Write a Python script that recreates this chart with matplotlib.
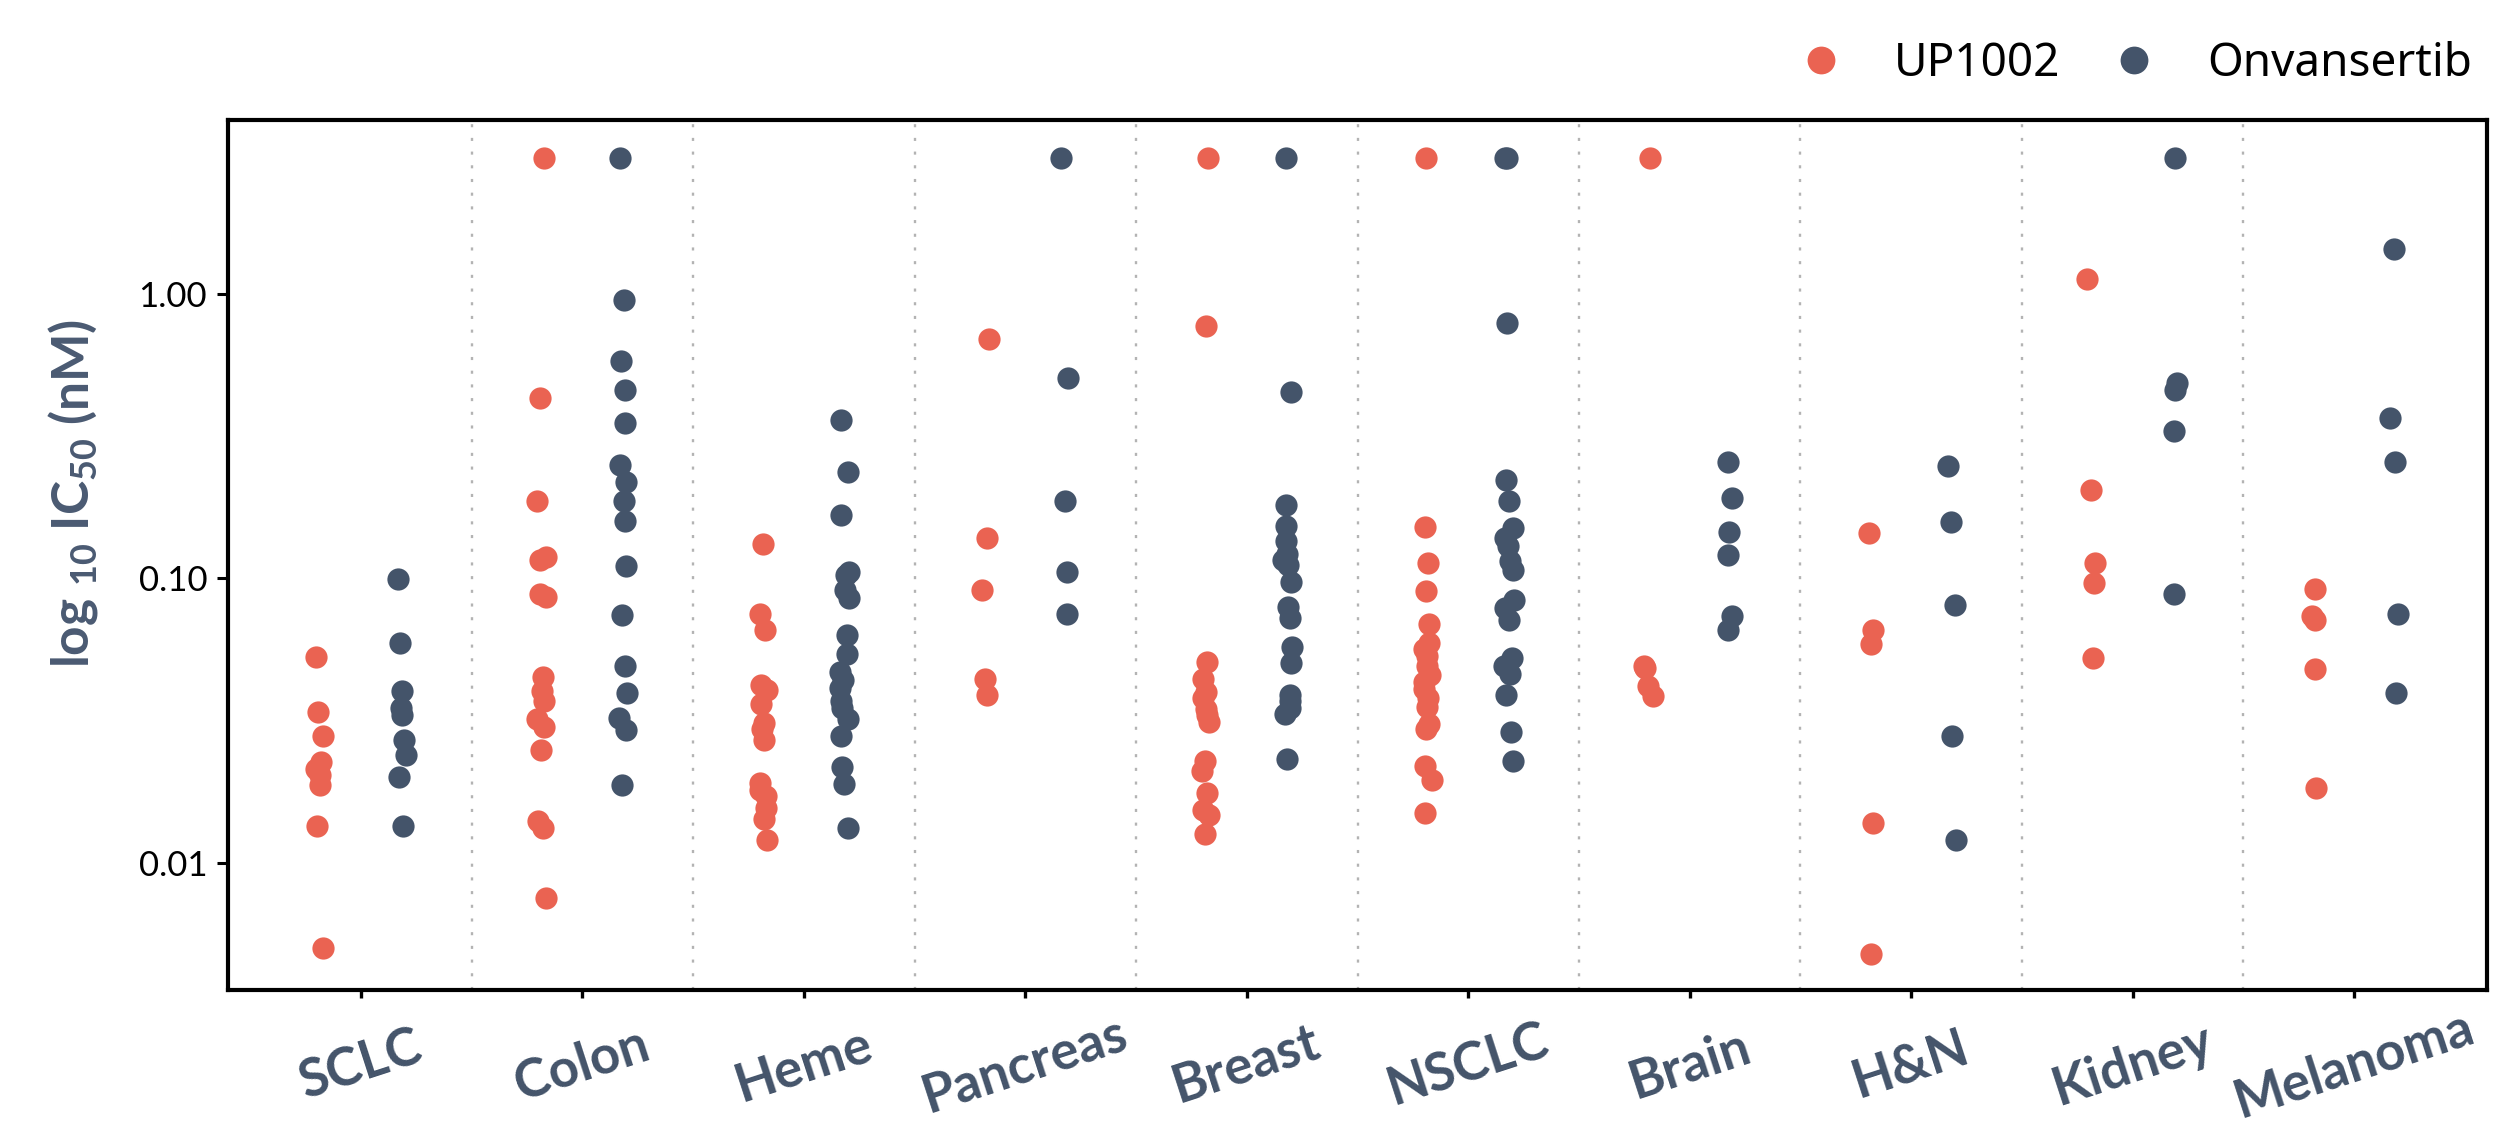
import numpy as np
import matplotlib
matplotlib.use("Agg")
import matplotlib.pyplot as plt
from matplotlib.lines import Line2D

plt.rcParams['mathtext.default'] = 'regular'

# ---------------- data ----------------
categories = ["SCLC", "Colon", "Heme", "Pancreas", "Breast",
              "NSCLC", "Brain", "H&N", "Kidney", "Melanoma"]
series_names = ["UP1002", "Onvansertib"]

sclc_up = [0.053, 0.034, 0.028, 0.0226, 0.0214, 0.0203, 0.0187, 0.0135, 0.0050]
sclc_onv = [0.099, 0.059, 0.040, 0.035, 0.033, 0.027, 0.024, 0.020, 0.0135]

colon_up = [3.0, 0.43, 0.187, 0.119, 0.116, 0.088, 0.086, 0.045, 0.040, 0.037,
            0.032, 0.030, 0.025, 0.0140, 0.0132, 0.0075]
colon_onv = [3.0, 0.95, 0.58, 0.46, 0.35, 0.25, 0.218, 0.187, 0.159, 0.110,
             0.074, 0.049, 0.0394, 0.0323, 0.0292, 0.0187]

heme_up = [0.1315, 0.075, 0.066, 0.042, 0.0405, 0.036, 0.031, 0.0295, 0.027,
           0.019, 0.018, 0.0171, 0.0156, 0.0143, 0.0120]
heme_onv = [0.36, 0.236, 0.167, 0.105, 0.103, 0.091, 0.085, 0.063, 0.054, 0.047,
            0.044, 0.041, 0.037, 0.035, 0.032, 0.028, 0.0217, 0.0189, 0.0133]

pancreas_up = [0.69, 0.138, 0.091, 0.0443, 0.0389]
pancreas_onv = [3.0, 0.507, 0.186, 0.105, 0.075]

breast_up = [3.0, 0.77, 0.0507, 0.0441, 0.0398, 0.038, 0.0346, 0.033, 0.0312,
             0.0228, 0.021, 0.0176, 0.0153, 0.0147, 0.0126]
breast_onv = [3.0, 0.452, 0.1815, 0.152, 0.1346, 0.122, 0.116, 0.1117, 0.0972,
              0.0792, 0.0722, 0.0573, 0.0502, 0.0389, 0.0371, 0.0350, 0.0334, 0.0232]

nsclc_up = [3.0, 0.151, 0.113, 0.0899, 0.0689, 0.0591, 0.0565, 0.0531, 0.049,
            0.0458, 0.0433, 0.0407, 0.038, 0.0354, 0.0308, 0.0294, 0.0219,
            0.0195, 0.0149]
nsclc_onv = [3.0, 3.0, 0.79, 0.222, 0.187, 0.1507, 0.138, 0.13, 0.1146, 0.107,
             0.0838, 0.0783, 0.0713, 0.0526, 0.049, 0.0462, 0.0389, 0.0288, 0.0228]

brain_up = [3.0, 0.049, 0.0485, 0.0417, 0.0384]
brain_onv = [0.255, 0.192, 0.145, 0.121, 0.0736, 0.0658]

hn_up = [0.1445, 0.0655, 0.0588, 0.0138, 0.0048]
hn_onv = [0.248, 0.158, 0.0804, 0.0278, 0.012]

kidney_up = [1.128, 0.204, 0.113, 0.0964, 0.0526]
kidney_onv = [3.0, 0.484, 0.458, 0.33, 0.0882]

melanoma_up = [0.0916, 0.0739, 0.0712, 0.048, 0.0183]
melanoma_onv = [1.43, 0.366, 0.255, 0.0746, 0.0396]

up_values = [sclc_up, colon_up, heme_up, pancreas_up, breast_up,
             nsclc_up, brain_up, hn_up, kidney_up, melanoma_up]
onv_values = [sclc_onv, colon_onv, heme_onv, pancreas_onv, breast_onv,
              nsclc_onv, brain_onv, hn_onv, kidney_onv, melanoma_onv]

ytick_values = [0.01, 0.1, 1.0]

# ---------------- style ----------------
RED = "#EA6352"
SLATE = "#44546A"
LABEL = "#4A5A72"
dodge = 0.183
jit = 0.022
ms = 16

fig = plt.figure(figsize=(25.16, 11.24), dpi=100)
ax = fig.add_axes([228 / 2516, 1 - 990 / 1124, (2487 - 228) / 2516, (990 - 120) / 1124])

rng = np.random.default_rng(3)
for i, (u, o) in enumerate(zip(up_values, onv_values)):
    xu = i - dodge + rng.uniform(-jit, jit, len(u))
    xo = i + dodge + rng.uniform(-jit, jit, len(o))
    ax.plot(xu, u, 'o', color=RED, ms=ms, mec='none', zorder=3)
    ax.plot(xo, o, 'o', color=SLATE, ms=ms, mec='none', zorder=3)

for i in range(len(categories) - 1):
    ax.axvline(i + 0.5, color="#b3b3b3", lw=1.7, linestyle=(0, (1.3, 4.5)), zorder=1)

ax.set_yscale('log')
ax.set_ylim(10 ** -2.447, 10 ** 0.610)
ax.set_xlim(-0.6, 9.6)

ax.set_yticks(ytick_values)
ax.set_yticklabels(["%.2f" % v for v in ytick_values])
ax.yaxis.set_minor_locator(matplotlib.ticker.NullLocator())
ax.set_xticks(range(len(categories)))
ax.set_xticklabels(categories)

for sp in ax.spines.values():
    sp.set_linewidth(3.0)
    sp.set_color("black")

ax.tick_params(axis='y', length=8, width=2.2, pad=7, labelsize=25, colors='black')
ax.tick_params(axis='x', length=6, width=2.4, pad=48)
for lab in ax.get_yticklabels():
    lab.set_fontfamily("Lato")
for lab in ax.get_xticklabels():
    lab.set_fontfamily("Lato")
    lab.set_fontweight("bold")
    lab.set_fontsize(38)
    lab.set_color(SLATE)
    lab.set_rotation(18)
    lab.set_rotation_mode('anchor')
    lab.set_ha('center')
    lab.set_va('center')

ax.set_ylabel("log $_{10}$ IC$_{50}$ (nM)", fontsize=37, fontweight='bold',
              family='Lato', color=LABEL)
ax.yaxis.set_label_coords(-0.0566, 0.571)

handles = [Line2D([], [], marker='o', ls='none', color=RED, mec='none', ms=20),
           Line2D([], [], marker='o', ls='none', color=SLATE, mec='none', ms=20)]
fig.legend(handles, series_names, loc='center right',
           bbox_to_anchor=(2472 / 2516, 1 - 64 / 1124), ncol=2, frameon=False,
           borderpad=0, borderaxespad=0, handlelength=1.0, handletextpad=1.1,
           columnspacing=1.1, prop={'family': 'Noto Sans', 'size': 33})

fig.savefig("out.png", dpi=100)
